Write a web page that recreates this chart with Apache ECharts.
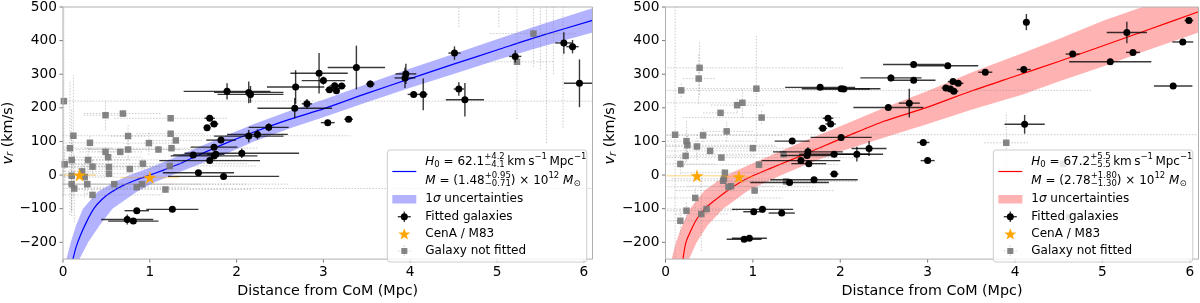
<!DOCTYPE html>
<html><head><meta charset="utf-8">
<script src="https://cdn.jsdelivr.net/npm/echarts@6/dist/echarts.min.js"></script>
<style>html,body{margin:0;padding:0;background:#fff}#c{width:1200px;height:303px}</style>
</head><body><div id="c"></div>
<script>
// ---------------- DATA ----------------
const xTicks = [0, 1, 2, 3, 4, 5, 6];
const yTicks = [-200, -100, 0, 100, 200, 300, 400, 500];
const X_MIN = 0, X_MAX = 6.1, Y_MIN = -250, Y_MAX = 500;

// Left panel: model curve and 1-sigma band  [R (Mpc), v (km/s)]
const leftCurve = [[0.115,-250],[0.15,-215],[0.2,-180],[0.27,-140],[0.355,-100],[0.45,-72],[0.55,-52],[0.7,-30],[0.85,-14],[1.0,0],[1.15,14],[1.3,29],[1.55,58],[1.85,92],[2.2,128],[2.6,165],[3.0,197],[3.5,243],[4.0,287],[4.5,330],[5.0,372],[5.5,414],[6.1,460]];
const leftUpper = [[0.04,-250],[0.09,-200],[0.15,-150],[0.23,-100],[0.4,-50],[0.6,-20],[0.77,0],[1.0,22],[1.3,54],[1.6,87],[1.9,120],[2.2,152],[2.6,190],[3.0,224],[3.5,271],[4.0,317],[4.5,360],[5.0,404],[5.5,447],[6.1,496]];
const leftLower = [[0.19,-250],[0.29,-200],[0.42,-150],[0.57,-100],[0.85,-50],[1.05,-22],[1.26,0],[1.6,35],[1.9,66],[2.2,100],[2.6,138],[3.0,172],[3.5,217],[4.0,260],[4.5,301],[5.0,342],[5.5,381],[6.1,424]];

// Left panel fitted galaxies [R, v, xerr, yerr]
const leftFitted = [[1.89,249,0.50,24],[2.14,246,0.40,32],[2.16,240,0.38,25],[2.68,262,0.33,50],[2.95,303,0.33,60],[3.00,281,0.25,12],[2.67,199,0.43,30],[2.81,212,0.06,14],[1.69,169,0.06,8],[1.74,152,0.05,6],[1.66,141,0.04,5],[2.37,142,0.23,12],[1.82,104,0.17,6],[2.14,116,0.40,18],[2.24,121,0.35,15],[1.74,83,0.27,5],[1.50,60,0.23,5],[1.76,62,0.10,5],[1.74,57,0.50,8],[1.69,43,0.58,6],[2.06,65,0.66,14],[1.56,7,0.41,5],[1.85,-4,0.64,5],[0.85,-106,0.14,8],[1.26,-102,0.30,6],[0.74,-132,0.30,15],[0.81,-137,0.29,8],[3.05,156,0.08,5],[3.29,166,0.05,6],[3.07,254,0.05,6],[3.13,266,0.06,8],[3.15,251,0.04,7],[3.21,265,0.05,6],[3.38,320,0.33,65],[3.54,271,0.05,10],[3.95,301,0.12,30],[3.94,289,0.12,30],[4.04,240,0.07,8],[4.15,240,0.05,47],[4.51,363,0.07,20],[4.56,256,0.06,20],[4.63,224,0.22,50],[5.21,353,0.07,18],[5.77,393,0.10,32],[5.87,382,0.07,20],[5.95,273,0.18,71]];

// Left panel galaxies not fitted [R, v, xerr, yerr]
const leftNotFitted = [[0.01,220,6.2,280],[0.49,178,0.25,45],[0.69,183,0.45,10],[1.24,169,0.65,10],[0.12,117,3.2,180],[0.31,96,0.35,20],[0.75,116,0.2,35],[1.24,123,0.4,10],[1.30,103,0.3,8],[0.99,95,0.3,35],[0.08,80,0.5,200],[0.49,69,0.3,15],[0.66,69,0.25,10],[0.52,53,0.4,15],[0.75,76,0.6,30],[1.10,76,0.8,10],[1.25,80,1.0,10],[0.10,45,2.0,150],[0.29,45,0.5,40],[0.02,32,0.5,50],[0.34,25,0.8,20],[0.53,24,0.6,10],[0.92,34,1.2,15],[1.23,27,1.0,10],[0.10,-2,0.4,120],[0.22,11,0.3,20],[0.53,4,0.5,10],[0.77,18,0.6,10],[0.25,-6,0.4,60],[0.10,-27,2.5,80],[0.13,-40,6.0,100],[0.28,-27,1.0,30],[0.59,-27,1.0,10],[0.91,-27,1.2,10],[0.85,-36,0.6,10],[0.34,-59,0.8,15],[1.18,-43,1.0,10],[5.23,337,0.43,170],[5.42,421,0.5,100],[4.56,540,0.05,100],[5.02,540,0.05,100],[5.50,600,0.1,285],[5.57,600,0.1,505],[5.65,600,0.1,300],[5.76,620,0.1,480]];

// Left panel CenA / M83 [R, v, xerr, yerr]
const leftStars = [[0.19,0,0.19,0],[1.0,-7,0.34,0]];

// Right panel: model curve and band
const rightCurve = [[0.2,-250],[0.234,-200],[0.3,-160],[0.36,-130],[0.45,-100],[0.55,-78],[0.7,-48],[0.85,-22],[1.0,-2],[1.2,20],[1.5,52],[1.8,85],[2.1,118],[2.5,160],[3.0,202],[3.5,250],[4.0,294],[4.5,338],[5.0,384],[5.5,430],[6.1,486]];
const rightUpper = [[0.07,-250],[0.12,-200],[0.19,-150],[0.28,-100],[0.45,-45],[0.70,0],[1.0,35],[1.5,92],[2.0,145],[2.56,206],[3.0,250],[3.5,305],[4.09,363],[4.5,405],[5.0,458],[5.61,514],[6.1,560]];
const rightLower = [[0.27,-250],[0.357,-200],[0.48,-150],[0.66,-100],[0.95,-45],[1.33,0],[1.6,30],[2.0,70],[2.56,116],[3.0,152],[3.5,194],[4.09,240],[4.5,278],[5.0,322],[5.5,370],[6.1,424]];

const rightFitted = [[1.77,261,0.40,6],[2.01,257,0.45,6],[2.04,256,0.30,6],[2.58,289,0.35,10],[2.84,329,0.35,10],[2.84,282,0.25,8],[2.55,201,0.40,8],[2.79,214,0.12,43],[1.86,169,0.06,6],[1.89,152,0.06,6],[1.80,139,0.05,6],[2.01,112,0.35,8],[1.45,101,0.20,6],[1.63,69,0.40,14],[1.62,58,0.30,8],[1.93,62,0.40,6],[2.19,62,0.30,22],[2.33,79,0.20,22],[1.55,43,0.45,6],[1.64,34,0.20,6],[1.93,3,0.05,6],[1.70,-14,0.50,6],[1.42,-22,0.45,6],[1.01,-109,0.12,6],[1.11,-102,0.35,6],[1.33,-113,0.15,8],[0.90,-191,0.20,6],[0.96,-188,0.20,6],[2.95,97,0.07,8],[3.00,43,0.08,8],[3.23,325,0.35,6],[3.66,306,0.08,6],[3.29,278,0.06,6],[3.35,273,0.06,6],[3.21,259,0.05,6],[3.30,249,0.05,6],[3.26,256,0.05,6],[4.10,314,0.08,6],[4.13,455,0.03,24],[4.66,360,0.08,6],[5.09,337,0.47,6],[5.28,424,0.23,32],[5.35,365,0.08,6],[5.99,460,0.05,8],[5.92,396,0.12,6],[5.81,265,0.22,6],[4.11,151,0.23,28]];

const rightNotFitted = [[0.39,319,1.64,80],[0.38,287,0.18,75],[0.18,252,4.7,20],[1.04,257,0.8,160],[0.88,215,1.1,45],[0.82,208,0.3,20],[0.63,185,0.2,10],[1.10,171,0.9,20],[0.70,130,0.3,30],[0.43,118,0.9,20],[0.11,120,6.0,400],[0.24,101,0.8,60],[0.25,89,1.0,30],[0.36,85,0.9,40],[0.51,72,1.2,10],[1.00,80,0.8,10],[0.23,57,0.8,20],[0.64,52,1.6,10],[1.07,31,0.9,10],[0.17,33,0.4,30],[1.35,62,1.0,10],[0.68,7,0.5,10],[0.67,-11,0.6,10],[0.66,-17,0.8,10],[0.75,-33,0.5,10],[0.72,-35,1.0,10],[1.38,-19,0.8,10],[1.02,-46,0.9,10],[0.34,-68,1.0,30],[0.47,-101,1.0,15],[0.41,-116,0.3,110],[0.24,-106,0.6,25],[0.17,-136,0.6,40],[3.90,96,0.25,90],[4.55,33,0.3,20],[4.62,-125,0.3,20]];

const rightStars = [[0.36,-2,0.35,0],[0.84,-5,0.16,0]];

const leftLegendLines = {h0:'62.1', h0up:'+4.2', h0dn:'\u22124.1', m:'1.48', mup:'+0.95', mdn:'\u22120.71'};
const rightLegendLines = {h0:'67.2', h0up:'+5.5', h0dn:'\u22125.5', m:'2.78', mup:'+1.80', mdn:'\u22121.30'};
const legendLabels = ['1\u03c3 uncertainties', 'Fitted galaxies', 'CenA / M83', 'Galaxy not fitted'];

// ---------------- RENDER ----------------
const FONT = 'DejaVu Sans';
const chart = echarts.init(document.getElementById('c'), null, {renderer: 'canvas'});
const STAR = 'path://M50,2 L61.2,36.2 L97.6,36.2 L68.2,57.6 L79.4,92 L50,70.8 L20.6,92 L31.8,57.6 L2.4,36.2 L38.8,36.2 Z';

function bandSeries(gi, upper, lower, color) {
  return {type:'custom', xAxisIndex:gi, yAxisIndex:gi, clip:true, z:1, silent:true, data:[[upper[0][0], upper[0][1]]],
    renderItem: (p, api) => ({type:'polygon', shape:{points: upper.concat(lower.slice().reverse()).map(q => api.coord(q))}, style:{fill:color}})};
}
function errSeries(gi, data, stroke, lw, dash, z) {
  return {type:'custom', xAxisIndex:gi, yAxisIndex:gi, clip:true, z:z, silent:true, data:data,
    encode:{x:0, y:1},
    renderItem: (p, api) => {
      const R = api.value(0), v = api.value(1), xe = api.value(2), ye = api.value(3);
      const a = api.coord([R - xe, v]), b = api.coord([R + xe, v]);
      const c = api.coord([R, v - ye]), d = api.coord([R, v + ye]);
      const st = {stroke:stroke, lineWidth:lw, lineDash:dash || null};
      const ch = [{type:'line', shape:{x1:a[0], y1:a[1], x2:b[0], y2:b[1]}, style:st}];
      if (ye > 0) ch.push({type:'line', shape:{x1:c[0], y1:c[1], x2:d[0], y2:d[1]}, style:st});
      return {type:'group', children:ch};
    }};
}
function scatterSeries(gi, data, symbol, size, color, z) {
  return {type:'scatter', xAxisIndex:gi, yAxisIndex:gi, data:data.map(r => [r[0], r[1]]), symbol:symbol, symbolSize:size,
    itemStyle:{color:color, opacity:1}, z:z, silent:true, clip:true};
}
function lineSeries(gi, data, color) {
  return {type:'line', xAxisIndex:gi, yAxisIndex:gi, data:data, showSymbol:false, smooth:0.25, clip:true, z:3, silent:true,
    lineStyle:{color:color, width:1.2}};
}
function tickSeries(gi) {
  const d = yTicks.map(v => [X_MIN, v, 0]).concat(xTicks.map(r => [r, Y_MIN, 1]));
  return {type:'custom', xAxisIndex:gi, yAxisIndex:gi, clip:false, z:10, silent:true, data:d,
    renderItem: (p, api) => {
      const q = api.coord([api.value(0), api.value(1)]);
      const st = {stroke:'#777', lineWidth:1};
      return api.value(2) === 0
        ? {type:'line', shape:{x1:q[0]-3.5, y1:q[1], x2:q[0], y2:q[1]}, style:st}
        : {type:'line', shape:{x1:q[0], y1:q[1], x2:q[0], y2:q[1]+3.5}, style:st};
    }};
}
function panelSeries(gi, curve, upper, lower, lineColor, bandColor, fitted, notFitted, stars) {
  return [
    bandSeries(gi, upper, lower, bandColor),
    lineSeries(gi, curve, lineColor),
    errSeries(gi, notFitted, 'rgba(140,140,140,0.45)', 1, [1.5,1.5], 4),
    scatterSeries(gi, notFitted, 'rect', 6.5, 'rgba(120,120,120,0.9)', 5),
    errSeries(gi, stars, 'rgba(255,165,0,0.35)', 1.5, null, 6),
    errSeries(gi, fitted, 'rgba(0,0,0,0.78)', 1.4, null, 7),
    scatterSeries(gi, fitted, 'circle', 7, '#000', 8),
    scatterSeries(gi, stars, STAR, 13, '#FFA500', 9),
    tickSeries(gi)
  ];
}

// text measuring for legend math
const mctx = document.createElement('canvas').getContext('2d');
function tw(t, size, it) { mctx.font = (it ? 'italic ' : '') + size + 'px "' + FONT + '"'; return mctx.measureText(t).width; }
function T(x, y, t, size, it) {
  return {type:'text', x:x, y:y, style:{text:t, fontSize:size, fontFamily:FONT, fontStyle: it ? 'italic' : 'normal', fill:'#000',
    align:'left', verticalAlign:'middle', textAlign:'left', textVerticalAlign:'middle'}};
}
function mathText(x, y, segs) {
  const out = []; let cx = x; const S = 8.5;
  segs.forEach(s => {
    if (s.stack) {
      out.push(T(cx, y - 5, s.stack[0], S)); out.push(T(cx, y + 3.5, s.stack[1], S));
      cx += Math.max(tw(s.stack[0], S), tw(s.stack[1], S));
    } else {
      const sz = s.small ? S : 12;
      out.push(T(cx, y + (s.dy || 0), s.t, sz, s.it)); cx += tw(s.t, sz, s.it);
    }
  });
  return out;
}
function starPoints(cx, cy, ro, ri) {
  const pts = [];
  for (let i = 0; i < 10; i++) { const r = i % 2 ? ri : ro; const a = -Math.PI/2 + i*Math.PI/5; pts.push([cx + r*Math.cos(a), cy + r*Math.sin(a)]); }
  return pts;
}
function legendGroup(ox, L, lineColor, bandColor) {
  const ix = ox + 17, tx = ox + 38, TS = '\u2009';
  const ch = [
    {type:'rect', shape:{x:ox, y:150, width:199.5, height:112, r:3}, style:{fill:'rgba(255,255,255,0.8)', stroke:'#cccccc', lineWidth:1}},
    {type:'line', shape:{x1:ox+5, y1:171.5, x2:ox+29, y2:171.5}, style:{stroke:lineColor, lineWidth:1.2}},
    {type:'rect', shape:{x:ox+5, y:195, width:24, height:8.5}, style:{fill:bandColor}},
    {type:'line', shape:{x1:ix-6.5, y1:216.7, x2:ix+6.5, y2:216.7}, style:{stroke:'rgba(0,0,0,0.78)', lineWidth:1.4}},
    {type:'line', shape:{x1:ix, y1:211.5, x2:ix, y2:222}, style:{stroke:'rgba(0,0,0,0.78)', lineWidth:1.4}},
    {type:'circle', shape:{cx:ix, cy:216.7, r:3.5}, style:{fill:'#000'}},
    {type:'polygon', shape:{points:starPoints(ix, 234.5, 6.3, 2.6)}, style:{fill:'#FFA500'}},
    {type:'line', shape:{x1:ix-6.5, y1:251, x2:ix+6.5, y2:251}, style:{stroke:'rgba(140,140,140,0.45)', lineWidth:1, lineDash:[1.5,1.5]}},
    {type:'line', shape:{x1:ix, y1:245.5, x2:ix, y2:256.5}, style:{stroke:'rgba(140,140,140,0.45)', lineWidth:1, lineDash:[1.5,1.5]}},
    {type:'rect', shape:{x:ix-3, y:248, width:6, height:6}, style:{fill:'rgba(120,120,120,0.9)'}}
  ];
  mathText(tx, 161.7, [{t:'H', it:true}, {t:'0', small:true, dy:3}, {t:' = ' + L.h0}, {stack:[L.h0up, L.h0dn]},
    {t:TS + 'km' + TS + 's'}, {t:'\u22121', small:true, dy:-5}, {t:TS + 'Mpc'}, {t:'\u22121', small:true, dy:-5}]).forEach(e => ch.push(e));
  mathText(tx, 180.7, [{t:'M', it:true}, {t:' = (' + L.m}, {stack:[L.mup, L.mdn]}, {t:') \u00d7 10'}, {t:'12', small:true, dy:-5},
    {t:' '}, {t:'M', it:true}, {t:'\u2299', small:true, dy:3}]).forEach(e => ch.push(e));
  mathText(tx, 199.3, [{t:'1'}, {t:'\u03c3', it:true}, {t:legendLabels[0].slice(2)}]).forEach(e => ch.push(e));
  ch.push(T(tx, 216.7, legendLabels[1], 12));
  ch.push(T(tx, 234.3, legendLabels[2], 12));
  ch.push(T(tx, 251.2, legendLabels[3], 12));
  ch.forEach(e => { e.z = 100; });
  return {type:'group', z:100, children:ch};
}

function xAxisOf(gi) {
  return {gridIndex:gi, type:'value', min:X_MIN, max:X_MAX, interval:1,
    axisLine:{show:false}, axisTick:{show:false}, splitLine:{show:false},
    axisLabel:{fontSize:13.7, color:'#000', fontFamily:FONT, margin:6, showMaxLabel:false,
      formatter: v => Number.isInteger(v) ? String(v) : ''},
    name:'Distance from CoM (Mpc)', nameLocation:'middle', nameGap:19,
    nameTextStyle:{fontSize:14.3, color:'#000', fontFamily:FONT}};
}
function yAxisOf(gi) {
  return {gridIndex:gi, type:'value', min:Y_MIN, max:Y_MAX, interval:50,
    axisLine:{show:false}, axisTick:{show:false}, splitLine:{show:false},
    axisLabel:{fontSize:13.7, color:'#000', fontFamily:FONT, margin:6,
      formatter: v => (v % 100 === 0) ? String(v).replace('-', '\u2212') : ''},
    name:'{i|v}{s|r} (km/s)', nameLocation:'middle', nameGap:43,
    nameTextStyle:{fontSize:14.3, color:'#000', fontFamily:FONT,
      rich:{i:{fontSize:14.3, fontStyle:'italic', fontFamily:FONT, color:'#000'},
            s:{fontSize:10, fontStyle:'italic', fontFamily:FONT, color:'#000', verticalAlign:'bottom', padding:[5,0,0,0]}}}};
}

const option = {
  animation:false,
  backgroundColor:'#fff',
  grid:[
    {left:60, top:5, width:532.5, height:263, show:true, borderColor:'#b0b0b0', borderWidth:1, backgroundColor:'transparent', z:20},
    {left:665.5, top:5, width:533, height:263, show:true, borderColor:'#b0b0b0', borderWidth:1, backgroundColor:'transparent', z:20}
  ],
  xAxis:[xAxisOf(0), xAxisOf(1)],
  yAxis:[yAxisOf(0), yAxisOf(1)],
  series: panelSeries(0, leftCurve, leftUpper, leftLower, '#0000ff', 'rgba(0,0,255,0.3)', leftFitted, leftNotFitted, leftStars)
    .concat(panelSeries(1, rightCurve, rightUpper, rightLower, '#ff0000', 'rgba(255,0,0,0.3)', rightFitted, rightNotFitted, rightStars)),
  graphic: {elements: [legendGroup(387.3, leftLegendLines, '#0000ff', 'rgba(0,0,255,0.3)'), legendGroup(993.3, rightLegendLines, '#ff0000', 'rgba(255,0,0,0.3)')]}
};
chart.setOption(option);
</script></body></html>
